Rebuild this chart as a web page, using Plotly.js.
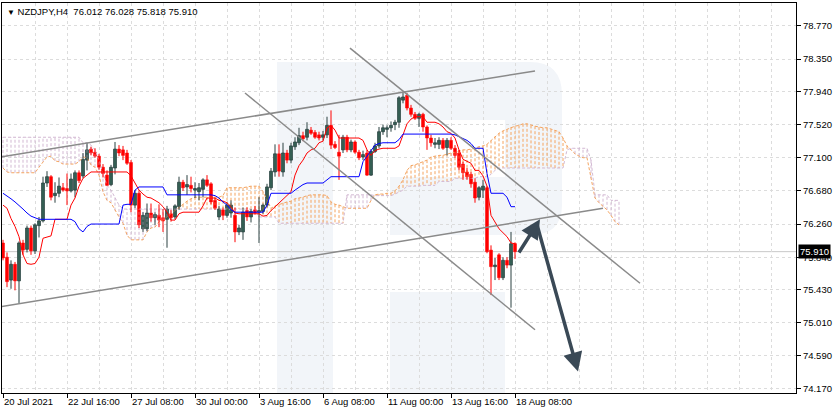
<!DOCTYPE html>
<html><head><meta charset="utf-8">
<script src="https://cdn.plot.ly/plotly-3.0.1.min.js"></script>
<style>html,body{margin:0;padding:0;background:#fff}#chart{width:837px;height:413px}</style>
</head><body><div id="chart"></div>
<script>
// ---------- DATA (NZDJPY H4) ----------
const openP  = [76.02,75.84,75.55,75.75,75.54,76.02,75.94,76.21,75.92,76.24,76.30,76.78,76.86,76.62,76.65,76.72,76.71,76.68,76.69,76.91,
76.87,77.07,77.21,77.17,77.12,76.98,76.88,76.76,76.97,77.21,77.20,77.16,77.04,76.50,76.65,76.20,76.20,76.40,76.34,76.37,
76.34,76.32,76.39,76.35,76.48,76.79,76.73,76.75,76.69,76.67,76.70,76.82,76.77,76.56,76.35,76.44,76.37,76.40,76.37,76.16,
76.16,76.43,76.35,76.44,76.41,76.42,76.50,76.72,76.92,77.15,76.92,77.16,77.07,77.24,77.29,77.38,77.36,77.45,77.42,77.39,
77.36,77.39,77.51,77.27,77.17,77.20,77.36,77.20,77.30,77.17,77.11,77.16,76.88,77.18,77.25,77.43,77.46,77.48,77.52,77.55,
77.83,77.89,77.73,77.65,77.60,77.65,77.49,77.35,77.27,77.27,77.32,77.23,77.32,77.22,77.16,77.02,76.92,76.89,76.79,76.60,
76.69,76.72,75.93,75.72,75.87,75.58,75.80,75.74,76.012];
const highP  = [76.06,75.90,75.80,75.78,76.04,76.06,76.24,76.24,76.27,76.35,76.86,76.93,76.88,76.79,76.85,76.78,76.90,76.90,76.94,76.94,
77.16,77.29,77.24,77.22,77.15,77.02,76.94,77.01,77.30,77.26,77.25,77.20,77.07,76.69,76.69,76.41,76.52,76.52,76.41,76.51,
76.45,76.49,76.44,76.51,76.86,76.82,76.88,76.86,76.79,76.78,76.84,76.88,76.79,76.59,76.49,76.47,76.53,76.56,76.47,76.25,
76.47,76.47,76.45,76.49,76.60,76.52,76.77,76.97,77.27,77.27,77.29,77.20,77.29,77.36,77.48,77.43,77.55,77.49,77.45,77.43,
77.44,77.62,77.70,77.31,77.39,77.39,77.39,77.33,77.32,77.20,77.19,77.20,77.21,77.29,77.49,77.52,77.51,77.56,77.58,77.88,
77.92,77.92,77.77,77.68,77.67,77.67,77.51,77.39,77.35,77.36,77.35,77.35,77.36,77.26,77.20,77.05,76.97,76.92,76.84,76.74,
76.82,76.74,75.99,75.83,75.89,75.84,75.84,76.16,76.028];
const lowP   = [75.80,75.46,75.44,75.42,75.26,75.87,75.90,75.87,75.88,76.09,76.28,76.73,76.56,76.53,76.60,76.67,76.50,76.66,76.60,76.78,
76.84,76.94,77.13,77.10,76.95,76.85,76.74,76.74,76.89,77.12,77.07,77.01,76.41,76.46,76.21,76.16,76.17,76.29,76.25,76.22,
76.16,75.96,76.29,76.32,76.44,76.68,76.63,76.66,76.59,76.56,76.60,76.73,76.51,76.44,76.31,76.31,76.34,76.34,76.03,76.12,
76.06,76.30,76.28,76.38,76.02,76.39,76.47,76.69,76.86,76.86,76.86,77.03,77.03,77.20,77.26,77.31,77.32,77.39,77.34,77.32,
77.32,77.35,77.21,77.21,76.82,77.16,77.17,77.17,77.15,77.07,77.07,76.87,76.87,77.16,77.22,77.39,77.36,77.43,77.45,77.48,
77.79,77.70,77.62,77.58,77.49,77.43,77.20,77.24,77.22,77.21,77.20,77.13,77.20,77.10,76.94,76.82,76.82,76.72,76.53,76.56,
76.59,75.89,75.36,75.55,75.55,75.55,75.70,75.20,75.818];
const closeP = [75.83,75.53,75.75,75.54,76.02,75.93,76.21,75.92,76.25,76.30,76.78,76.86,76.60,76.65,76.74,76.69,76.68,76.83,76.91,76.81,
77.08,77.20,77.16,77.12,76.98,76.90,76.75,76.98,77.21,77.16,77.13,77.03,76.50,76.65,76.25,76.37,76.40,76.34,76.38,76.31,
76.30,76.45,76.34,76.49,76.79,76.72,76.76,76.71,76.71,76.72,76.82,76.75,76.54,76.46,76.45,76.37,76.50,76.50,76.16,76.21,
76.41,76.35,76.42,76.40,76.43,76.50,76.73,76.93,77.15,76.93,77.16,77.07,77.25,77.30,77.38,77.34,77.46,77.41,77.36,77.35,
77.39,77.51,77.26,77.23,77.12,77.36,77.20,77.30,77.17,77.10,77.14,76.88,77.18,77.25,77.43,77.48,77.48,77.51,77.55,77.86,
77.87,77.73,77.65,77.60,77.65,77.49,77.35,77.29,77.29,77.32,77.22,77.32,77.22,77.13,76.98,76.91,76.86,76.77,76.59,76.72,
76.74,75.91,75.72,75.74,75.58,75.80,75.74,76.01,75.910];

const tenkan = [76.50,76.46,76.33,76.23,76.10,75.87,75.76,75.75,75.76,75.84,76.08,76.10,76.11,76.32,76.32,76.32,76.32,76.50,76.59,76.74,
76.84,76.88,76.92,76.92,76.92,76.92,76.92,76.92,76.92,76.92,76.92,76.92,76.87,76.77,76.69,76.64,76.60,76.59,76.56,76.53,
76.48,76.41,76.31,76.31,76.39,76.41,76.41,76.41,76.41,76.41,76.49,76.59,76.59,76.59,76.56,76.55,76.53,76.48,76.40,76.39,
76.39,76.39,76.39,76.39,76.39,76.36,76.37,76.43,76.48,76.53,76.58,76.62,76.67,76.88,77.00,77.07,77.16,77.20,77.22,77.29,
77.31,77.48,77.51,77.45,77.35,77.35,77.35,77.35,77.35,77.35,77.32,77.20,77.13,77.19,77.21,77.22,77.22,77.22,77.22,77.25,
77.39,77.53,77.59,77.62,77.62,77.62,77.55,77.55,77.55,77.53,77.49,77.43,77.41,77.35,77.20,77.08,77.05,77.03,76.94,76.94,
76.87,76.74,76.37,76.29,76.20,76.15,76.10,76.02,76.01];
const kijun  = [76.65,76.62,76.58,76.54,76.50,76.45,76.40,76.36,76.34,76.32,76.32,76.32,76.32,76.32,76.32,76.32,76.32,76.32,76.29,76.20,
76.16,76.23,76.26,76.26,76.26,76.26,76.26,76.26,76.26,76.26,76.50,76.51,76.51,76.69,76.73,76.73,76.73,76.73,76.73,76.73,
76.73,76.63,76.63,76.63,76.63,76.63,76.63,76.63,76.63,76.63,76.63,76.63,76.63,76.62,76.59,76.54,76.50,76.44,76.41,76.41,
76.41,76.41,76.41,76.41,76.41,76.41,76.50,76.65,76.65,76.65,76.65,76.65,76.65,76.69,76.73,76.76,76.78,76.78,76.78,76.78,
76.78,76.82,76.86,76.86,76.86,76.86,76.86,76.86,76.86,76.86,77.05,77.12,77.20,77.26,77.28,77.29,77.29,77.29,77.29,77.33,
77.40,77.40,77.40,77.40,77.40,77.40,77.40,77.40,77.40,77.40,77.40,77.40,77.40,77.39,77.37,77.34,77.32,77.28,77.22,77.22,
77.22,76.90,76.65,76.65,76.65,76.65,76.60,76.48,76.48];
const spanA  = [76.97,76.92,76.91,76.91,76.91,76.91,76.91,76.91,76.91,76.98,77.05,77.11,77.12,77.06,77.05,77.02,77.02,77.02,77.02,77.05,
77.11,77.10,77.01,76.98,76.88,76.67,76.56,76.53,76.43,76.35,76.27,76.12,76.06,76.06,76.06,76.06,76.16,76.21,76.22,76.29,
76.31,76.35,76.39,76.43,76.48,76.51,76.55,76.58,76.60,76.60,76.60,76.60,76.60,76.60,76.60,76.62,76.72,76.72,76.72,76.72,
76.72,76.73,76.74,76.74,76.74,76.67,76.56,76.46,76.49,76.51,76.53,76.54,76.55,76.58,76.59,76.60,76.62,76.63,76.63,76.63,
76.63,76.62,76.54,76.51,76.50,76.48,76.46,76.46,76.46,76.46,76.46,76.46,76.56,76.63,76.64,76.64,76.65,76.65,76.68,76.74,
76.82,76.94,77.00,77.01,77.03,77.05,77.07,77.11,77.12,77.13,77.13,77.15,77.16,77.17,77.19,77.20,77.20,77.21,77.22,77.24,
77.25,77.27,77.32,77.37,77.41,77.44,77.46,77.49,77.50,77.51,77.53,77.53,77.51,77.50,77.49,77.48,77.48,77.46,77.45,77.43,
77.35,77.25,77.20,77.15,77.12,77.10,77.10,76.84,76.59,76.53,76.48,76.44,76.37,76.29,76.25];
const spanB  = [77.36,77.36,77.36,77.36,77.36,77.36,77.36,77.36,77.36,77.36,77.36,77.36,77.36,77.36,77.36,77.36,77.36,77.36,77.36,77.36,
77.29,77.29,77.26,77.20,77.07,76.92,76.75,76.69,76.60,76.50,76.45,76.45,76.45,76.45,76.45,76.45,76.45,76.45,76.45,76.45,
76.45,76.45,76.45,76.45,76.45,76.45,76.45,76.45,76.45,76.45,76.45,76.45,76.45,76.45,76.45,76.45,76.45,76.45,76.45,76.45,
76.45,76.45,76.45,76.45,76.35,76.35,76.35,76.35,76.35,76.27,76.27,76.27,76.27,76.27,76.27,76.27,76.27,76.27,76.27,76.27,
76.27,76.27,76.27,76.27,76.27,76.27,76.63,76.63,76.63,76.63,76.63,76.63,76.63,76.62,76.62,76.62,76.62,76.62,76.64,76.67,
76.69,76.74,76.74,76.74,76.74,76.75,76.75,76.75,76.75,76.80,76.80,76.80,76.80,76.84,76.84,76.84,76.84,76.84,76.84,76.86,
76.86,76.86,76.89,76.94,76.97,76.97,76.97,76.97,76.97,76.97,76.97,76.97,76.97,76.97,76.97,76.97,76.97,76.97,76.97,76.97,
76.97,77.20,77.22,77.22,77.22,77.22,77.22,77.07,76.63,76.63,76.63,76.63,76.56,76.56,76.56];

const tickBars   = [0,16,32,48,64,80,96,112,128];
const tickLabels = ["20 Jul 2021","22 Jul 16:00","27 Jul 08:00","30 Jul 00:00","3 Aug 16:00","6 Aug 08:00","11 Aug 00:00","13 Aug 16:00","18 Aug 08:00"];
const priceTicks = [78.770,78.350,77.940,77.520,77.100,76.680,76.260,75.840,75.430,75.010,74.590,74.170];
const lastPrice  = 75.910;
const header     = "NZDJPY,H4  76.012 76.028 75.818 75.910";

// hand-drawn analysis objects (bar index, price)
const channelUpper = {bar:[-0.75,133],  price:[77.11,78.20]};
const channelLower = {bar:[-0.75,150],  price:[75.21,76.46]};
const descUpper    = {bar:[86.75,159.25], price:[78.49,75.51]};
const descLower    = {bar:[60.5,133],   price:[77.92,74.92]};
const arrowUp      = {bar:[128.75,134.25], price:[75.88,76.32]};
const arrowDown    = {bar:[133.5,143.75],  price:[76.25,74.39]};

// ---------- BUILD ----------
const FONT = "Liberation Sans, Arial, DejaVu Sans, sans-serif";
const traces = [];

// cloud hatches
const hxA=[],hyA=[],hxB=[],hyB=[];
spanA.forEach((a,i)=>{
  const b=spanB[i];
  if(a>=b){hxA.push(i,i,null);hyA.push(a,b,null);} else {hxB.push(i,i,null);hyB.push(a,b,null);}
});
traces.push({type:'scatter',mode:'lines',x:hxA,y:hyA,line:{color:'#f4a460',width:1,dash:'3px,2px'},hoverinfo:'skip'});
traces.push({type:'scatter',mode:'lines',x:hxB,y:hyB,line:{color:'#d3b9d3',width:1,dash:'3px,2px'},hoverinfo:'skip'});
const idxSpan = spanA.map((_,i)=>i);
traces.push({type:'scatter',mode:'lines',x:idxSpan,y:spanA,line:{color:'#f4a460',width:1,dash:'3px,2px'},hoverinfo:'skip'});
traces.push({type:'scatter',mode:'lines',x:idxSpan,y:spanB,line:{color:'#d3b9d3',width:1,dash:'3px,2px'},hoverinfo:'skip'});

// candles
const wbx=[],wby=[],wrx=[],wry=[];
const bbx=[],bbb=[],bbh=[],brx=[],brb=[],brh=[];
openP.forEach((o,i)=>{
  const c=closeP[i],h=highP[i],l=lowP[i];
  if(c>=o){wbx.push(i,i,null);wby.push(l,h,null);bbx.push(i);bbb.push(o);bbh.push(c-o);}
  else {wrx.push(i,i,null);wry.push(l,h,null);brx.push(i);brb.push(c);brh.push(o-c);}
});
traces.push({type:'scatter',mode:'lines',x:wbx,y:wby,line:{color:'#2a4040',width:1},hoverinfo:'skip'});
traces.push({type:'scatter',mode:'lines',x:wrx,y:wry,line:{color:'#ff0000',width:1},hoverinfo:'skip'});
traces.push({type:'bar',x:bbx,y:bbh,base:bbb,width:0.75,marker:{color:'#3f7c66',line:{color:'#243a3a',width:0.7}},hoverinfo:'skip'});
traces.push({type:'bar',x:brx,y:brh,base:brb,width:0.75,marker:{color:'#ff0000',line:{color:'#ff0000',width:0.5}},hoverinfo:'skip'});

// tenkan / kijun
const idxC = tenkan.map((_,i)=>i);
traces.push({type:'scatter',mode:'lines',x:idxC,y:tenkan,line:{color:'#ff0000',width:1},hoverinfo:'skip'});
traces.push({type:'scatter',mode:'lines',x:idxC,y:kijun,line:{color:'#0000ff',width:1},hoverinfo:'skip'});

// watermark helpers (pixel -> paper)
const PL=2,PT=3,PW=794,PH=390;
const px=x=>(x-PL)/PW, py=y=>1-(y-PT)/PH;
const WM='#f2f5f9';
const rectPx=(x0,y0,x1,y1)=>({type:'rect',xref:'paper',yref:'paper',x0:px(x0),x1:px(x1),y0:py(y1),y1:py(y0),fillcolor:WM,line:{width:0},layer:'below'});
const bowl = `M ${px(505)} ${py(62)} L ${px(530)} ${py(62)} Q ${px(562)} ${py(62)} ${px(562)} ${py(95)} L ${px(562)} ${py(205)} Q ${px(562)} ${py(235)} ${px(530)} ${py(235)} L ${px(390)} ${py(235)} L ${px(390)} ${py(177)} L ${px(505)} ${py(177)} Z`;

const lineShape=(o)=>({type:'line',xref:'x',yref:'y',x0:o.bar[0],y0:o.price[0],x1:o.bar[1],y1:o.price[1],line:{color:'#8a8a8a',width:1.5},layer:'above'});

const shapes=[
  rectPx(277,62,333,393), rectPx(333,62,505,120),
  {type:'path',xref:'paper',yref:'paper',path:bowl,fillcolor:WM,line:{width:0},layer:'below'},
  rectPx(390,292,505,393),
  {type:'line',xref:'paper',yref:'y',x0:0,x1:1,y0:lastPrice,y1:lastPrice,line:{color:'#c8c8c8',width:1},layer:'below'},
  lineShape(channelUpper), lineShape(channelLower), lineShape(descUpper), lineShape(descLower)
];

const arrowAnn=(o)=>({x:o.bar[1],y:o.price[1],ax:o.bar[0],ay:o.price[0],xref:'x',yref:'y',axref:'x',ayref:'y',text:'',showarrow:true,arrowhead:2,arrowsize:1.1,arrowwidth:3.5,arrowcolor:'#3a4956',standoff:0});

const annotations=[
  {xref:'paper',yref:'paper',x:0,y:1,xanchor:'left',yanchor:'top',xshift:3,yshift:-1,showarrow:false,
   text:'<span style="font-size:8px">▼</span> '+header,font:{family:FONT,size:9.5,color:'#000'}},
  {xref:'paper',yref:'y',x:1,y:lastPrice,xanchor:'left',yanchor:'middle',xshift:2,showarrow:false,text:lastPrice.toFixed(3),
   bgcolor:'#000',font:{family:FONT,size:9.5,color:'#fff'},borderpad:1},
  arrowAnn(arrowUp), arrowAnn(arrowDown)
];

const grid={gridcolor:'#dcdcdc',griddash:'3px,3px',gridwidth:1};
const layout={
  width:837,height:413,margin:{l:PL,r:837-PL-PW,t:PT,b:413-PT-PH},
  paper_bgcolor:'#fff',plot_bgcolor:'#fff',showlegend:false,barmode:'overlay',bargap:0,
  xaxis:Object.assign({range:[-0.25,198.25],tickmode:'array',tickvals:tickBars,ticktext:tickLabels,ticks:'outside',ticklen:4,tickcolor:'#000',
    ticklabelposition:'outside right',tickangle:0,automargin:false,showgrid:true,
    minor:{tick0:0,dtick:8,showgrid:true,gridcolor:'#dcdcdc',griddash:'3px,3px',ticks:''},
    showline:true,linecolor:'#000',linewidth:1,mirror:true,zeroline:false,fixedrange:true,
    tickfont:{family:FONT,size:9.5,color:'#000'}},grid),
  yaxis:Object.assign({side:'right',range:[74.119,79.061],tickmode:'array',tickvals:priceTicks,tickformat:'.3f',ticks:'outside',ticklen:4,tickcolor:'#000',
    automargin:false,showgrid:true,showline:true,linecolor:'#000',linewidth:1,mirror:true,zeroline:false,fixedrange:true,
    tickfont:{family:FONT,size:9.5,color:'#000'}},grid),
  shapes:shapes,annotations:annotations
};
Plotly.newPlot('chart',traces,layout,{staticPlot:true,displayModeBar:false});
</script></body></html>
